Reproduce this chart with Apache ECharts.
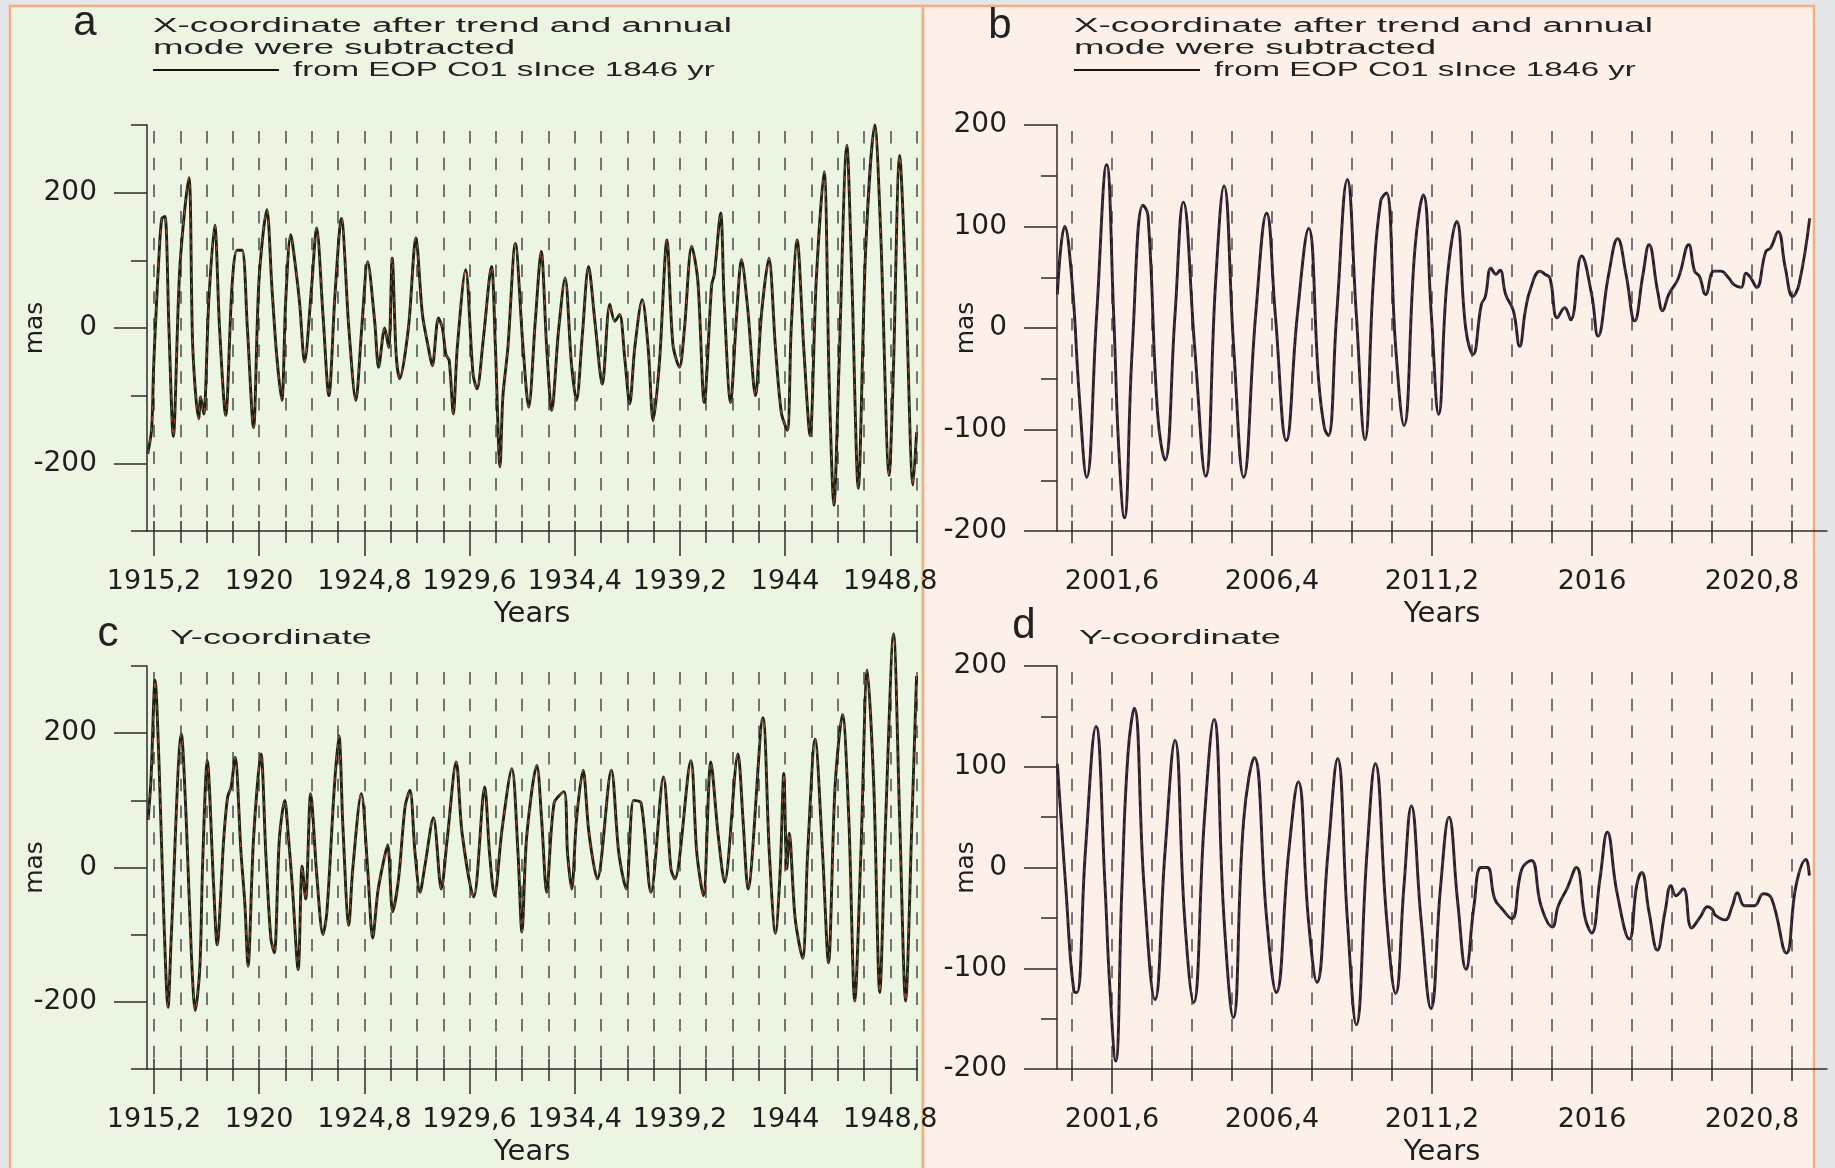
<!DOCTYPE html>
<html>
<head>
<meta charset="utf-8">
<script src="https://cdn.jsdelivr.net/npm/echarts@6/dist/echarts.min.js"></script>
<style>
html,body{margin:0;padding:0;background:#e3e5e8;}
#chart{width:1835px;height:1168px;}
</style>
</head>
<body>
<div id="chart"></div>
<script>
// ---------- DATA ----------
// Panel a: X-coordinate, 1915-1950
const yearsA = [1914.91,1915.09,1915.18,1915.29,1915.45,1915.56,1915.70,1915.88,1916.08,1916.38,
1916.79,1916.97,1917.24,1917.33,1917.47,1917.70,1917.97,1918.19,1918.47,1918.76,
1918.99,1919.22,1919.46,1919.74,1919.99,1920.35,1920.58,1920.80,1921.03,1921.21,
1921.44,1921.66,1921.85,1922.07,1922.39,1922.62,1922.91,1923.18,1923.46,1923.75,
1924.09,1924.41,1924.68,1924.95,1925.27,1925.45,1925.73,1925.91,1926.07,1926.25,
1926.41,1926.81,1927.15,1927.45,1927.72,1927.90,1928.18,1928.36,1928.52,1928.67,
1928.86,1929.04,1929.42,1929.76,1929.94,1930.22,1930.60,1930.78,1930.99,1931.12,
1931.35,1931.69,1932.03,1932.30,1932.60,1932.87,1933.12,1933.35,1933.66,1933.96,
1934.25,1934.48,1934.75,1935.03,1935.32,1935.66,1936.00,1936.23,1936.45,1936.68,
1936.91,1937.14,1937.48,1937.75,1937.98,1938.27,1938.61,1938.88,1939.18,1939.40,
1939.74,1940.02,1940.31,1940.65,1940.77,1941.06,1941.22,1941.51,1941.79,1942.01,
1942.29,1942.65,1942.92,1943.26,1943.56,1943.83,1944.10,1944.28,1944.55,1944.85,
1945.14,1945.42,1945.78,1946.01,1946.23,1946.44,1946.82,1947.05,1947.34,1947.68,
1948.09,1948.36,1948.75,1948.93,1949.23,1949.50,1949.84,1950.00];
const valuesA = [-186,-150,-60,20,120,162,165,0,-160,90,
222,-30,-134,-102,-127,40,152,0,-129,62,
115,115,0,-147,70,175,60,-41,-107,40,
138,90,35,-50,60,148,20,-100,50,162,
0,-107,0,98,10,-58,0,-29,103,-39,
-75,0,133,20,-29,-56,15,0,-39,-48,
-127,-29,86,-68,-90,-19,91,-29,-205,-102,
-29,125,-24,-117,10,113,-29,-122,-4,74,
-53,-107,-9,91,10,-83,35,10,20,-44,
-112,-29,42,-29,-137,-49,130,-24,-58,-4,
121,69,-110,64,79,170,40,-110,20,101,
30,-100,20,103,-29,-125,-151,0,130,-29,
-159,69,231,-78,-262,-78,270,69,-237,118,
300,143,-218,-78,255,69,-232,-154];

// Panel b: X-coordinate, 2000-2022.5
const yearsB = [1999.96,2000.18,2000.40,2000.62,2000.84,2001.14,2001.44,2001.65,2001.80,2001.97,
2002.21,2002.53,2002.68,2002.97,2003.19,2003.49,2003.74,2004.08,2004.41,2004.71,
2004.96,2005.25,2005.55,2005.91,2006.24,2006.50,2006.83,2007.16,2007.50,2007.80,
2007.97,2008.09,2008.34,2008.66,2008.93,2009.19,2009.44,2009.66,2009.83,2010.11,
2010.36,2010.69,2010.94,2011.18,2011.40,2011.65,2011.94,2012.21,2012.43,2012.68,
2012.80,2012.97,2013.12,2013.24,2013.41,2013.64,2013.83,2014.00,2014.15,2014.44,
2014.59,2014.74,2014.96,2015.18,2015.36,2015.69,2015.99,2016.18,2016.50,2016.77,
2017.02,2017.28,2017.53,2017.71,2017.97,2018.12,2018.30,2018.59,2018.90,2019.08,
2019.22,2019.41,2019.66,2019.86,2020.11,2020.25,2020.47,2020.62,2020.77,2020.94,
2021.21,2021.36,2021.58,2021.80,2022.02,2022.21,2022.53];
const valuesB = [33,100,46,-68,-147,13,161,13,-117,-187,
-19,121,111,-85,-130,13,124,-19,-146,46,
140,-19,-147,13,113,13,-111,13,98,-52,
-98,-106,13,146,13,-110,46,125,133,-19,
-96,79,131,13,-85,46,105,0,-26,23,
31,59,53,57,33,17,-18,17,38,56,
53,49,10,20,8,71,33,-8,53,88,
53,7,53,82,36,17,33,49,82,56,
51,33,56,56,49,43,40,54,49,40,
75,79,95,59,31,43,108];

// Panel c: Y-coordinate, 1915-1950
const yearsC = [1914.93,1915.06,1915.25,1915.43,1915.65,1915.84,1915.99,1916.45,1916.67,1916.90,
1917.08,1917.29,1917.42,1917.63,1917.92,1918.08,1918.38,1918.56,1918.72,1918.90,
1919.17,1919.35,1919.49,1919.74,1920.08,1920.30,1920.53,1920.69,1920.92,1921.17,
1921.32,1921.51,1921.78,1921.96,1922.12,1922.35,1922.64,1922.91,1923.09,1923.43,
1923.64,1923.82,1924.09,1924.27,1924.66,1924.95,1925.18,1925.41,1925.63,1925.86,
1926.09,1926.36,1926.66,1926.88,1927.11,1927.34,1927.56,1927.95,1928.31,1928.58,
1928.99,1929.26,1929.79,1930.29,1930.51,1930.74,1931.08,1931.53,1931.81,1931.99,
1932.21,1932.67,1932.89,1933.12,1933.46,1933.91,1934.07,1934.26,1934.48,1934.78,
1935.05,1935.43,1936.07,1936.41,1936.75,1937.09,1937.43,1937.88,1938.45,1938.79,
1938.97,1939.70,1939.97,1940.27,1940.61,1940.95,1941.24,1941.85,1942.08,1942.31,
1942.99,1943.28,1943.56,1943.78,1943.94,1944.08,1944.19,1944.46,1944.80,1945.03,
1945.37,1945.71,1945.98,1946.28,1946.62,1946.91,1947.18,1947.46,1947.75,1948.05,
1948.32,1948.59,1948.95,1949.23,1949.50,1949.79,1950.00];
const valuesC = [71,130,279,154,-76,-208,-101,199,71,-125,
-213,-150,7,159,-27,-115,42,105,120,164,
22,-56,-147,42,169,22,-105,-127,42,100,
51,-27,-152,2,-47,110,-17,-100,-66,120,
196,61,-86,-2,110,-2,-105,-37,2,34,
-66,-17,91,115,22,-37,2,74,-32,42,
157,51,-44,120,22,-42,56,147,22,-96,
47,152,71,-37,96,113,22,-32,71,145,
51,-17,145,22,-32,100,96,-37,135,-2,
-17,159,22,-42,157,47,-22,169,71,-32,
223,22,-98,-2,140,-2,51,-76,-135,22,
191,22,-142,120,228,71,-199,22,294,120,
-186,71,348,71,-199,71,285];

// Panel d: Y-coordinate, 2000-2022.5
const yearsD = [1999.96,2000.21,2000.46,2000.55,2000.80,2001.12,2001.39,2001.53,2001.71,2001.90,
2002.08,2002.27,2002.56,2002.89,2003.19,2003.49,2003.78,2004.05,2004.37,2004.66,
2004.96,2005.24,2005.55,2005.87,2006.24,2006.53,2006.90,2007.19,2007.49,2007.75,
2008.08,2008.37,2008.66,2008.93,2009.25,2009.50,2009.84,2010.11,2010.36,2010.58,
2010.87,2011.17,2011.46,2011.71,2011.97,2012.22,2012.46,2012.67,2012.86,2013.08,
2013.30,2013.59,2013.89,2014.18,2014.47,2014.81,2014.99,2015.25,2015.53,2015.80,
2015.99,2016.24,2016.46,2016.75,2017.12,2017.34,2017.49,2017.71,2017.96,2018.19,
2018.37,2018.52,2018.74,2018.99,2019.25,2019.47,2019.62,2019.69,2019.99,2020.21,
2020.36,2020.58,2020.87,2021.14,2021.39,2021.83,2022.12,2022.42,2022.52];
const valuesD = [103,-18,-123,-124,15,140,-18,-116,-192,-18,
113,158,-18,-131,15,126,-51,-134,47,147,
-51,-149,47,109,-51,-124,15,85,-51,-114,
15,108,-51,-156,15,103,-51,-125,-18,61,
-51,-140,-18,50,-34,-101,-38,0,0,-31,
-41,-51,-2,7,-38,-59,-38,-21,0,-51,
-65,-11,35,-25,-71,-18,-5,-44,-82,-44,
-18,-28,-21,-60,-49,-39,-42,-47,-52,-38,
-25,-38,-38,-26,-31,-85,-18,8,-8];

// Tick values / labels
const majorsOld = [1915.2, 1920, 1924.8, 1929.6, 1934.4, 1939.2, 1944, 1948.8];
const minorsOld = [1915.2,1916.4,1917.6,1918.8,1920,1921.2,1922.4,1923.6,1924.8,1926,1927.2,1928.4,1929.6,1930.8,1932,1933.2,1934.4,1935.6,1936.8,1938,1939.2,1940.4,1941.6,1942.8,1944,1945.2,1946.4,1947.6,1948.8,1950];
const majorsNew = [2001.6, 2006.4, 2011.2, 2016, 2020.8];
const minorsNew = [2000.4,2001.6,2002.8,2004,2005.2,2006.4,2007.6,2008.8,2010,2011.2,2012.4,2013.6,2014.8,2016,2017.2,2018.4,2019.6,2020.8,2022];
const yLabelsOld = [-200, 0, 200];
const yMinorOld = [-300, -100, 100, 300];
const yLabelsNew = [-200, -100, 0, 100, 200];
const yMinorNew = [-150, -50, 50, 150];

// ---------- CHART ----------
const FONT = 'DejaVu Sans';
const AX = '#2b2b2b';
const fmtYear = v => String(+(+v).toFixed(1)).replace('.', ',');

const option = {
  backgroundColor: '#e3e5e8',
  animation: false,
  grid: [
    {left: 147, top: 125, width: 770, height: 406},
    {left: 1057, top: 125, width: 770, height: 406},
    {left: 147, top: 666, width: 770, height: 407},
    {left: 1057, top: 666, width: 770, height: 407}
  ],
  xAxis: [], yAxis: [], series: [], graphic: []
};

function addPanel(g, xr, majors, minors, yr, yLab, yMin, nameGap, lineColor, dashColor, years, values, smooth) {
  const tickStyle = {color: AX, width: 1.5};
  option.xAxis.push({
    gridIndex: g, type: 'value', min: xr[0], max: xr[1], position: 'bottom',
    axisLine: {show: true, onZero: false, lineStyle: {color: AX, width: 1.5}},
    axisTick: {show: true, customValues: majors, length: 25, lineStyle: tickStyle},
    axisLabel: {show: true, customValues: majors, formatter: fmtYear, margin: 37,
      fontSize: 27, fontFamily: FONT, color: '#1e1e1e'},
    splitLine: {show: false},
    name: 'Years', nameLocation: 'middle', nameGap: 69, nameMoveOverlap: false,
    nameTextStyle: {fontSize: 29, fontFamily: FONT, color: '#1e1e1e'}
  });
  option.xAxis.push({
    gridIndex: g, type: 'value', min: xr[0], max: xr[1], position: 'bottom',
    axisLine: {show: false, onZero: false},
    axisTick: {show: true, customValues: minors, length: 12, lineStyle: tickStyle},
    axisLabel: {show: false},
    splitLine: {show: true, lineStyle: {color: '#565656', width: 1.6, type: [12.5, 14.2], dashOffset: 20.7}}
  });
  option.xAxis.push({
    gridIndex: g, type: 'value', min: xr[0], max: xr[1], position: 'bottom',
    axisLine: {show: false, onZero: false},
    axisTick: {show: true, inside: true, customValues: minors, length: 10, lineStyle: tickStyle},
    axisLabel: {show: false},
    splitLine: {show: false}
  });
  option.yAxis.push({
    gridIndex: g, type: 'value', min: yr[0], max: yr[1], position: 'left',
    axisLine: {show: true, onZero: false, lineStyle: {color: AX, width: 1.5}},
    axisTick: {show: true, customValues: yLab, length: 33, lineStyle: tickStyle},
    axisLabel: {show: true, customValues: yLab, margin: 50, fontSize: 28, fontFamily: FONT, color: '#1e1e1e'},
    splitLine: {show: false},
    name: 'mas', nameLocation: 'middle', nameGap: nameGap, nameRotate: 90, nameMoveOverlap: false,
    nameTextStyle: {fontSize: 25, fontFamily: FONT, color: '#1e1e1e'}
  });
  option.yAxis.push({
    gridIndex: g, type: 'value', min: yr[0], max: yr[1], position: 'left',
    axisLine: {show: false, onZero: false},
    axisTick: {show: true, customValues: yMin, length: 16, lineStyle: tickStyle},
    axisLabel: {show: false},
    splitLine: {show: false}
  });
  const n = Math.min(years.length, values.length);
  const data = [];
  for (let i = 0; i < n; i++) data.push([years[i], values[i]]);
  option.series.push({
    type: 'line', xAxisIndex: 3 * g, yAxisIndex: 2 * g, data: data,
    symbol: 'none', smooth: smooth, clip: false, silent: true, z: 3,
    lineStyle: {color: lineColor, width: 2.9}
  });
  option.series.push({
    type: 'line', xAxisIndex: 3 * g, yAxisIndex: 2 * g, data: data,
    symbol: 'none', smooth: smooth, clip: false, silent: true, z: 4,
    lineStyle: {color: dashColor, width: 1.1, type: [5, 6], opacity: 0.85}
  });
}

addPanel(0, [1914.88, 1950.02], majorsOld, minorsOld, [-300, 300], yLabelsOld, yMinorOld, 99, '#1b2211', '#b5553f', yearsA, valuesA, 0.3);
addPanel(1, [1999.95, 2023.05], majorsNew, minorsNew, [-200, 200], yLabelsNew, yMinorNew, 78, '#2a1e22', '#5d3b75', yearsB, valuesB, 0.45);
addPanel(2, [1914.88, 1950.02], majorsOld, minorsOld, [-300, 300], yLabelsOld, yMinorOld, 99, '#1b2211', '#b5553f', yearsC, valuesC, 0.3);
addPanel(3, [1999.95, 2023.05], majorsNew, minorsNew, [-200, 200], yLabelsNew, yMinorNew, 78, '#2a1e22', '#5d3b75', yearsD, valuesD, 0.45);

// Backgrounds and annotations
const TXT = '#222';
function label(x, y, text, size, sx, align) {
  return {type: 'text', x: x, y: y, scaleX: sx, z: 50,
    style: {text: text, fontSize: size, fontFamily: 'Liberation Sans', fill: TXT,
      align: align || 'left', verticalAlign: 'middle'}};
}
option.graphic = [
  {type: 'rect', z: -100, shape: {x: 10, y: 6, width: 913, height: 1170},
    style: {fill: '#ebf5e1', stroke: '#f4ad80', lineWidth: 2.5}},
  {type: 'rect', z: -100, shape: {x: 923, y: 6, width: 891, height: 1170},
    style: {fill: '#fdf0e8', stroke: '#f4ad80', lineWidth: 2.5}},
  label(85, 23, 'a', 42, 1, 'center'),
  label(153, 26, 'X-coordinate after trend and annual', 20, 1.84),
  label(153, 48, 'mode were subtracted', 20, 1.83),
  {type: 'line', z: 50, shape: {x1: 153, y1: 70, x2: 279, y2: 70}, style: {stroke: '#151515', lineWidth: 2}},
  label(293, 70, 'from EOP C01 sInce 1846 yr', 20, 1.65),
  label(1000, 26, 'b', 42, 1, 'center'),
  label(1074, 26, 'X-coordinate after trend and annual', 20, 1.84),
  label(1074, 48, 'mode were subtracted', 20, 1.83),
  {type: 'line', z: 50, shape: {x1: 1074, y1: 70, x2: 1200, y2: 70}, style: {stroke: '#151515', lineWidth: 2}},
  label(1214, 70, 'from EOP C01 sInce 1846 yr', 20, 1.65),
  label(108, 634, 'c', 42, 1, 'center'),
  label(170, 638, 'Y-coordinate', 20, 1.81),
  label(1024, 626, 'd', 42, 1, 'center'),
  label(1079, 638, 'Y-coordinate', 20, 1.81)
];

const chart = echarts.init(document.getElementById('chart'), null, {renderer: 'canvas', width: 1835, height: 1168});
chart.setOption(option);
</script>
</body>
</html>
